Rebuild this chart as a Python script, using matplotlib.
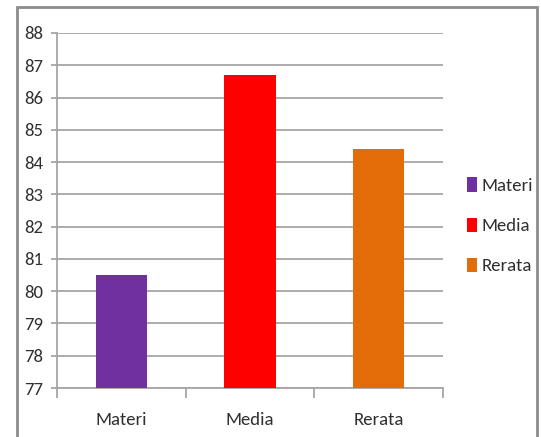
import matplotlib.pyplot as plt
from matplotlib.patches import Rectangle

categories = ["Materi", "Media", "Rerata"]
values = [80.5, 86.7, 84.4]
colors = ["#7030A0", "#FF0000", "#E36C09"]
yticks = list(range(77, 89))

plt.rcParams['font.family'] = ['Carlito', 'DejaVu Sans']

fig = plt.figure(figsize=(5.41, 4.37), dpi=100)
ax = fig.add_axes([0.106, 0.1121, 0.7125, 0.8124])

x = list(range(len(categories)))
bars = ax.bar(x, [v - 77 for v in values], bottom=77, width=0.4, color=colors, zorder=3)

ax.set_xlim(-0.5, len(categories) - 0.5)
ax.set_ylim(77, 88)
ax.set_yticks(yticks)
ax.set_yticklabels([str(t) for t in yticks])
ax.set_xticks(x)
ax.set_xticklabels(categories)
ax.set_xticks([i - 0.5 for i in range(len(categories) + 1)], minor=True)

ax.yaxis.grid(True, color="#a6a6a6", lw=1.3, zorder=0)
ax.set_axisbelow(True)

for s in ["top", "right"]:
    ax.spines[s].set_visible(False)
for s in ["left", "bottom"]:
    ax.spines[s].set_color("#a6a6a6")
    ax.spines[s].set_linewidth(1.3)

ax.tick_params(axis="y", length=4, width=1.3, color="#a6a6a6", labelsize=13.5,
               labelcolor="#303030", pad=6)
ax.tick_params(axis="x", which="major", length=0, labelsize=13.5,
               labelcolor="#303030", pad=17)
ax.tick_params(axis="x", which="minor", length=7, width=1.3, color="#a6a6a6")

fig.legend(bars, categories, loc="center left", bbox_to_anchor=(0.863, 0.483),
           frameon=False, fontsize=13.5, handlelength=0.55, handleheight=0.8,
           handletextpad=0.25, labelspacing=1.25, borderpad=0, borderaxespad=0,
           labelcolor="#303030")

# outer chart border
fig.patches.append(Rectangle((17 / 541, -0.1), 520 / 541, 1.084, transform=fig.transFigure,
                             fill=False, edgecolor="#8c8c8c", lw=2))

fig.savefig("out.png", dpi=100)
